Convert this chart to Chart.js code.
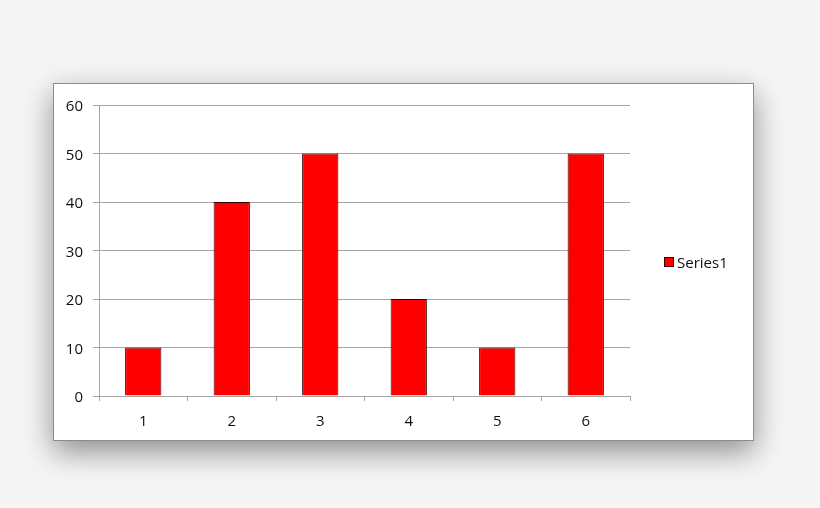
<!DOCTYPE html>
<html>
<head>
<meta charset="utf-8">
<script src="https://cdn.jsdelivr.net/npm/chart.js@4/dist/chart.umd.min.js"></script>
<style>
  html, body { margin: 0; padding: 0; background: #f5f5f5; }
  body { width: 820px; height: 508px; position: relative; overflow: hidden; }
  #box {
    position: absolute; left: 53px; top: 83px;
    width: 699px; height: 356px;
    background: #fff; border: 1px solid #8c8c8c;
    box-shadow: 0 11px 28px rgba(0, 0, 0, 0.42);
  }
</style>
</head>
<body>
<div id="box"><canvas id="chart"></canvas></div>
<script>
// values
const categories = ['1', '2', '3', '4', '5', '6'];
const series1 = [10, 40, 50, 20, 10, 50];
const seriesName = 'Series1';
const yMin = 0, yMax = 60, yStep = 10;

const gridColor = '#a6a6a6';
const textColor = '#111';
const fontFamily = '"Open Sans", "Noto Sans", sans-serif';

// small legend in the right margin, like the spreadsheet one
const sideLegend = {
    id: 'sideLegend',
    afterDraw(chart) {
        const ds = chart.data.datasets[0];
        const ctx = chart.ctx;
        const x = 610, y = 173;
        ctx.save();
        ctx.fillStyle = ds.backgroundColor;
        ctx.fillRect(x, y, 10, 10);
        ctx.strokeStyle = ds.borderColor;
        ctx.lineWidth = 1;
        ctx.strokeRect(x + 0.5, y + 0.5, 9, 9);
        ctx.fillStyle = textColor;
        ctx.font = '15px ' + fontFamily;
        ctx.textBaseline = 'middle';
        ctx.fillText(ds.label, x + 13, y + 6.5);
        ctx.restore();
    }
};

let ctx = document.getElementById('chart').getContext('2d');
let chart = new Chart(ctx, {
    type: 'bar',
    data: {
        labels: categories,
        datasets: [{
            label: seriesName,
            data: series1,
            backgroundColor: '#ff0000',
            borderColor: '#3a0000',
            borderWidth: 1,
            categoryPercentage: 1,
            barPercentage: 0.41
        }]
    },
    options: {
        responsive: true,
        maintainAspectRatio: false,
        animation: false,
        layout: { padding: { top: 21, right: 123, left: 0, bottom: 0 } },
        plugins: {
            legend: { display: false },
            tooltip: { enabled: false }
        },
        scales: {
            x: {
                grid: { drawOnChartArea: false, drawTicks: true, tickLength: 5, offset: true, color: gridColor },
                border: { color: gridColor },
                ticks: { color: textColor, padding: 12, font: { family: fontFamily, size: 15 } },
                afterFit(scale) { scale.height = 44; }
            },
            y: {
                min: yMin,
                max: yMax,
                grid: { color: gridColor, tickLength: 6 },
                border: { color: gridColor },
                ticks: { stepSize: yStep, color: textColor, padding: 10, labelOffset: 2, font: { family: fontFamily, size: 15 } },
                afterFit(scale) { scale.width = 45; }
            }
        }
    },
    plugins: [sideLegend]
});
</script>
</body>
</html>
